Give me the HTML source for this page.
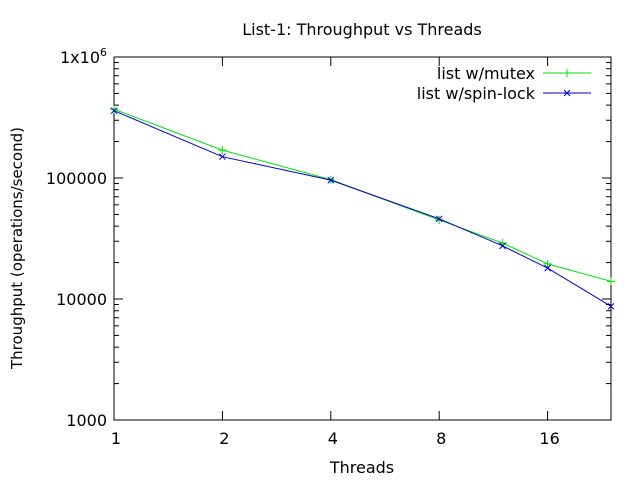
<!DOCTYPE html>
<html><head><meta charset="utf-8"><style>
body{margin:0;background:#fff}
svg{display:block;font-family:"DejaVu Sans","Liberation Sans",sans-serif;font-size:16px}
</style></head><body>
<svg id="c" width="640" height="480" viewBox="0 0 640 480">
<text x="362" y="35" text-anchor="middle">List-1: Throughput vs Threads</text>
<text x="362" y="473" text-anchor="middle">Threads</text>
<text transform="translate(22,248) rotate(-90)" text-anchor="middle" font-size="15">Throughput (operations/second)</text>
<g id="axes"></g><g id="series"></g><g id="legend"></g>
</svg>
<script>
const threads=[1,2,4,8,12,16,24];
const mutexVals=[370000,170000,97000,45000,29000,19500,14000];
const spinVals=[360000,150000,96000,46000,27500,18000,8700];
const xTicks=[1,2,4,8,16];
const yTicks=[1000,10000,100000,1000000];
const yTickLabels=["1000","10000","100000","1x10^6"];
const L=114,R=611,T=57,B=420;
const NS="http://www.w3.org/2000/svg";
function X(v){return L+(R-L)*Math.log(v)/Math.log(24);}
function Y(v){return B-(B-T)*(Math.log10(v)-3)/3;}
function mk(t,a,p){const e=document.createElementNS(NS,t);for(const k in a)e.setAttribute(k,a[k]);p.appendChild(e);return e;}
const ax=document.getElementById('axes');
const frame=mk('rect',{x:L,y:T,width:R-L,height:B-T,fill:'none',stroke:'#000','stroke-width':1},ax);


xTicks.forEach(v=>{const x=X(v);
mk('line',{x1:x,x2:x,y1:B,y2:B-9,stroke:'#000'},ax);mk('line',{x1:x,x2:x,y1:T,y2:T+9,stroke:'#000'},ax);
const t=mk('text',{x:x+2,y:B+24,'text-anchor':'middle'},ax);t.textContent=v;

});
yTicks.forEach((v,i)=>{const y=Y(v);
mk('line',{x1:L,x2:L+9,y1:y,y2:y,stroke:'#000'},ax);mk('line',{x1:R,x2:R-9,y1:y,y2:y,stroke:'#000'},ax);
for(let m=2;m<10&&i<3;m++){const yy=Y(v*m);mk('line',{x1:L,x2:L+5,y1:yy,y2:yy,stroke:'#000'},ax);mk('line',{x1:R,x2:R-5,y1:yy,y2:yy,stroke:'#000'},ax);}
const t=mk('text',{x:L-7,y:y+6,'text-anchor':'end'},ax);
if(yTickLabels[i].includes('^')){t.textContent='1x10';const s=mk('tspan',{dy:-7,'font-size':11},t);s.textContent='6';}
else t.textContent=yTickLabels[i];

});
const sg=document.getElementById('series');
function series(vals,color,name,mark){
const pts=threads.map((t,i)=>[X(t),Y(vals[i])]);
const pl=mk('polyline',{points:pts.map(p=>p.join(',')).join(' '),fill:'none',stroke:color,'stroke-width':1},sg);


pts.forEach(p=>{const g=mk('path',{d:mark(p[0],p[1]),stroke:color,fill:'none'},sg);

});}
const plus=(x,y)=>`M${x-4},${y}h8M${x},${y-4}v8`;
const cross=(x,y)=>`M${x-3},${y-3}l6,6M${x-3},${y+3}l6,-6`;
series(mutexVals,'#00e000','mutex',plus);
series(spinVals,'#0000cc','spin-lock',cross);
const lg=document.getElementById('legend');
[['list w/mutex','#00e000',plus,79],['list w/spin-lock','#0000cc',cross,99]].forEach(([lab,c,m,y],i)=>{
const t=mk('text',{x:535,y:y,'text-anchor':'end'},lg);t.textContent=lab;


mk('line',{x1:543,x2:591,y1:y-6,y2:y-6,stroke:c},lg);
mk('path',{d:m(567,y-6),stroke:c,fill:'none'},lg);});
</script>
</body></html>
